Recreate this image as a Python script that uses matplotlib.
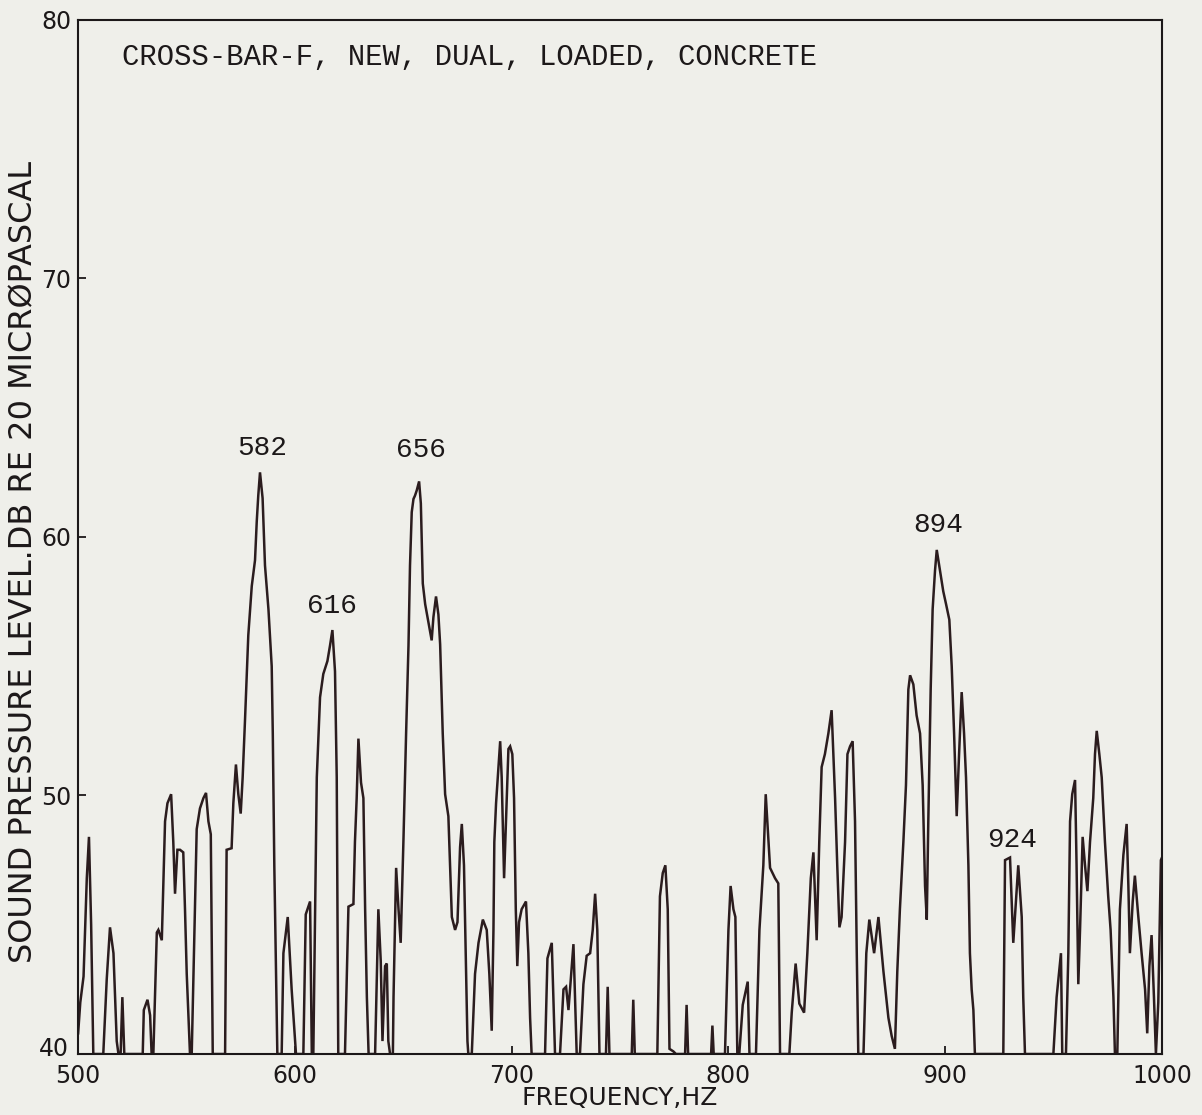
import matplotlib
matplotlib.use("Agg")
import matplotlib.pyplot as plt
import matplotlib.transforms as mtransforms
import numpy as np

# ---- data ----
freq_hz = [
    500, 501, 502.5, 504, 505, 506, 507,
    511.6, 513.2, 514.7, 516.3, 517.8, 518.6, 519.6, 520.4, 521.3,
    529.8, 530.3, 532.0, 533.2, 533.9,
    534.7, 536.3, 537.0, 538.6, 540.1, 541.2, 542.9, 543.9, 544.7, 545.8, 547.0, 548.5, 549.3, 550.1, 551.6,
    552.4, 554.7, 556.2, 557.8, 559.0, 560.1, 561.2, 562.1,
    567.8, 568.5, 570.8, 571.6, 572.8, 573.9, 575.0, 575.9, 577.0, 578.5, 580.1, 581.6, 582.4, 583.1, 583.9,
    585.1, 586.2, 587.8, 589.3, 589.8, 590.5, 591.3, 591.9,
    593.9, 594.7, 596.7, 598.5, 600.5,
    603.9, 605.0, 607.0, 607.8,
    608.5, 610.1, 611.6, 613.1, 615.0, 616.2, 617.3, 618.5, 619.3, 620.0,
    623.1, 624.7, 627.0, 627.7, 628.5, 629.3, 630.5, 631.6, 632.4, 633.2, 634.0,
    637.0, 638.5, 639.6, 640.4, 641.6, 642.4, 643.1, 643.9,
    645.2, 645.5, 646.7, 647.8, 648.8, 650.1, 651.3, 652.4, 653.1, 653.9, 654.7, 655.4, 656.2, 657.3,
    658.1, 659.0, 660.1, 661.6, 663.1, 663.9, 665.1, 666.2, 667.0, 668.2, 669.3, 670.8, 671.6, 672.4,
    673.9, 675.0, 676.2, 677.0, 678.0, 678.8, 679.6, 680.0,
    681.6, 683.1, 684.7, 686.7, 688.5, 689.7, 690.8, 691.6, 692.0, 692.8, 693.9, 694.7, 695.4, 696.5,
    697.4, 698.5, 699.3, 700.3, 701.1, 701.9, 702.6, 703.4, 704.6, 706.6, 707.7, 708.5, 709.2,
    715.4, 716.5, 718.5, 720.0,
    722.3, 723.9, 725.1, 726.2, 728.5, 730.0,
    731.5, 733.1, 734.6, 736.2, 737.4, 738.5, 739.5, 740.5,
    743.5, 744.3, 745.1,
    755.4, 756.1, 756.8,
    767.2, 768.4, 769.7, 770.9, 772.0, 772.8, 774.6, 775.8,
    780.0, 780.7, 781.4,
    792.0, 792.6, 793.2,
    798.4, 800.0, 801.0, 802.3, 803.2, 804.1, 805.0, 806.6, 808.9, 809.7,
    812.7, 814.3, 816.1, 817.2, 818.4, 819.2, 821.5, 823.0, 823.8,
    828.1, 829.2, 831.0, 832.7, 834.9, 836.4, 838.0, 839.2, 840.7, 841.9, 843.0, 844.5, 846.1, 847.6,
    849.2, 850.2, 851.2, 852.2, 853.8, 854.9, 856.1, 857.3, 858.4, 859.2, 859.9,
    862.3, 863.6, 865.0, 867.2, 869.2, 871.5, 873.8, 875.3, 876.8, 877.9, 879.1, 880.7, 881.9, 883.0,
    883.8, 885.3, 886.8, 888.4, 889.6, 890.7, 891.5, 892.2, 893.3, 894.2, 895.3, 896.1, 897.6, 899.1,
    900.4, 901.9, 903.0, 904.1, 905.3, 906.4, 907.6, 908.7, 909.6, 910.7, 911.4, 912.2, 913.0, 913.7,
    926.8, 927.6, 929.9, 931.4, 933.7, 935.3, 936.0, 936.8,
    949.9, 951.4, 953.4, 954.0, 955.7, 956.8, 957.6, 958.6, 959.9, 960.6, 961.4, 962.2, 963.4, 964.5,
    965.6, 966.8, 968.3, 969.1, 969.9, 971.1, 972.2, 973.7, 975.2, 976.3, 977.6, 978.3, 979.4, 980.6,
    982.2, 983.7, 984.5, 985.2, 986.5, 987.5, 989.1, 990.6, 992.2, 993.2, 994.2, 995.2, 996.3, 997.2,
    998.3, 999.5, 1000,
]
level_db = [
    40.8, 42.0, 43.0, 46.8, 48.4, 45.0, 40.0,
    40.0, 42.9, 44.9, 43.9, 40.5, 40.0, 40.0, 42.2, 40.0,
    40.0, 41.7, 42.1, 41.5, 40.0,
    40.0, 44.7, 44.8, 44.4, 49.0, 49.7, 50.05, 48.2, 46.2, 47.9, 47.9, 47.8, 45.6, 43.1, 40.0,
    40.0, 48.7, 49.5, 49.9, 50.1, 49.0, 48.5, 40.0,
    40.0, 47.9, 47.96, 49.7, 51.2, 50.05, 49.3, 50.7, 52.95, 56.2, 58.1, 59.1, 60.6, 61.6, 62.5,
    61.5, 58.9, 57.2, 55.0, 52.4, 47.3, 43.1, 40.0,
    40.0, 43.9, 45.3, 42.5, 40.0,
    40.0, 45.4, 45.9, 40.0,
    40.0, 50.7, 53.8, 54.7, 55.2, 55.8, 56.4, 54.8, 50.7, 40.0,
    40.0, 45.7, 45.8, 48.2, 49.9, 52.2, 50.5, 49.9, 45.6, 42.2, 40.0,
    40.0, 45.6, 43.6, 40.5, 43.4, 43.5, 40.5, 40.0,
    40.0, 42.2, 47.2, 45.6, 44.3, 48.35, 52.4, 55.8, 58.9, 60.96, 61.47, 61.6, 61.8, 62.15,
    61.3, 58.2, 57.4, 56.7, 56.0, 56.9, 57.7, 57.0, 55.85, 52.4, 50.05, 49.2, 47.3, 45.3,
    44.8, 45.1, 48.0, 48.9, 47.3, 43.9, 40.5, 40.0,
    40.0, 43.1, 44.3, 45.2, 44.8, 43.1, 40.9, 44.8, 48.2, 49.7, 51.1, 52.1, 50.7, 46.8,
    49.0, 51.8, 51.9, 51.6, 49.9, 45.6, 43.4, 45.1, 45.6, 45.9, 43.9, 41.4, 40.0,
    40.0, 43.7, 44.3, 40.0,
    40.0, 42.5, 42.6, 41.7, 44.25, 40.0,
    40.0, 42.7, 43.8, 43.9, 44.8, 46.2, 44.8, 40.0,
    40.0, 42.6, 40.0,
    40.0, 42.1, 40.0,
    40.0, 46.1, 47.0, 47.3, 45.6, 40.2, 40.1, 40.0,
    40.0, 41.9, 40.0,
    40.0, 41.1, 40.0,
    40.0, 44.8, 46.5, 45.6, 45.3, 40.0, 40.0, 41.9, 42.8, 40.0,
    40.0, 44.8, 47.3, 50.05, 48.35, 47.2, 46.8, 46.6, 40.0,
    40.0, 41.6, 43.5, 41.95, 41.6, 43.9, 46.8, 47.8, 44.4, 48.2, 51.1, 51.6, 52.4, 53.3,
    49.9, 47.3, 44.9, 45.3, 48.2, 51.6, 51.9, 52.1, 49.0, 43.9, 40.0,
    40.0, 43.9, 45.2, 43.9, 45.3, 43.2, 41.4, 40.7, 40.2, 43.2, 45.6, 48.2, 50.4, 54.1,
    54.65, 54.3, 53.1, 52.4, 50.4, 46.5, 45.2, 49.0, 54.1, 57.2, 58.7, 59.5, 58.7, 57.9,
    57.4, 56.8, 55.0, 52.4, 49.2, 51.6, 54.0, 52.4, 50.7, 47.3, 43.9, 42.5, 41.7, 40.0,
    40.0, 47.5, 47.6, 44.3, 47.3, 45.3, 42.2, 40.0,
    40.0, 42.2, 43.9, 40.0, 40.0, 43.9, 49.0, 50.05, 50.6, 47.3, 42.7, 44.8, 48.4, 47.3,
    46.3, 48.2, 49.9, 51.6, 52.5, 51.6, 50.7, 48.2, 46.1, 44.8, 42.2, 40.0, 40.0, 45.6,
    47.7, 48.9, 46.5, 43.9, 45.9, 46.9, 45.3, 43.9, 42.5, 40.8, 43.4, 44.6, 42.2, 40.0,
    42.0, 47.5, 47.6,
]

peak_labels = ["582", "616", "656", "894", "924"]
peak_label_freq = [584.9, 617.1, 658.2, 896.7, 930.8]
peak_label_level = [63.44, 57.33, 63.36, 60.45, 48.28]

x_ticks = [500, 600, 700, 800, 900, 1000]
y_ticks = [40, 50, 60, 70, 80]

title_text = "CROSS-BAR-F, NEW, DUAL, LOADED, CONCRETE"
x_label = "FREQUENCY,HZ"
y_label = "SOUND PRESSURE LEVEL.DB RE 20 MICRØPASCAL"

# ---- figure ----
bg = "#efefea"
ink = "#2b1c1e"
axis_ink = "#1c1819"
fig = plt.figure(figsize=(12.02, 11.15), dpi=100, facecolor=bg)
ax = fig.add_axes([0.065, 0.0547, 0.9017, 0.9274], facecolor=bg)

ax.plot(freq_hz, level_db, color=ink, lw=1.8, solid_joinstyle="miter")

ax.set_xlim(500, 1000)
ax.set_ylim(40, 80)
ax.set_xticks(x_ticks)
ax.set_yticks(y_ticks)
ax.set_xticklabels([str(t) for t in x_ticks])
# the lowest y label is drawn separately, slightly raised (as in the reference)
ax.set_yticklabels([""] + [str(t) for t in y_ticks[1:]])

for s in ax.spines.values():
    s.set_color(axis_ink)
    s.set_linewidth(1.5)

ax.tick_params(axis="both", direction="in", length=6, width=1.3, color=axis_ink,
               labelsize=17, labelcolor=axis_ink)
ax.tick_params(axis="y", pad=5)
ax.tick_params(axis="x", pad=7)
for lab in ax.get_xticklabels() + ax.get_yticklabels():
    lab.set_family("DejaVu Sans")

blend = mtransforms.blended_transform_factory(ax.transAxes, ax.transData)
ax.text(-0.0083, y_ticks[0] + 0.2, str(y_ticks[0]), transform=blend, ha="right", va="center",
        fontsize=17, family="DejaVu Sans", color=axis_ink, clip_on=False)

ax.set_xlabel(x_label, fontsize=18, family="DejaVu Sans", color=axis_ink)
ax.xaxis.set_label_coords(0.5, -0.0305)
ax.xaxis.label.set_va("top")
ax.set_ylabel(y_label, fontsize=23, family="DejaVu Sans", color=axis_ink)
ax.yaxis.set_label_coords(-0.036, 0.476)

ax.text(0.0406, 0.964, title_text, transform=ax.transAxes, ha="left", va="center",
        family="Liberation Mono", fontsize=20.8, color=axis_ink)

for lbl, f, l in zip(peak_labels, peak_label_freq, peak_label_level):
    ax.text(f, l, lbl, ha="center", va="center", family="Liberation Mono",
            fontsize=20, color=axis_ink)

fig.savefig("out.png", dpi=100, facecolor=bg)
